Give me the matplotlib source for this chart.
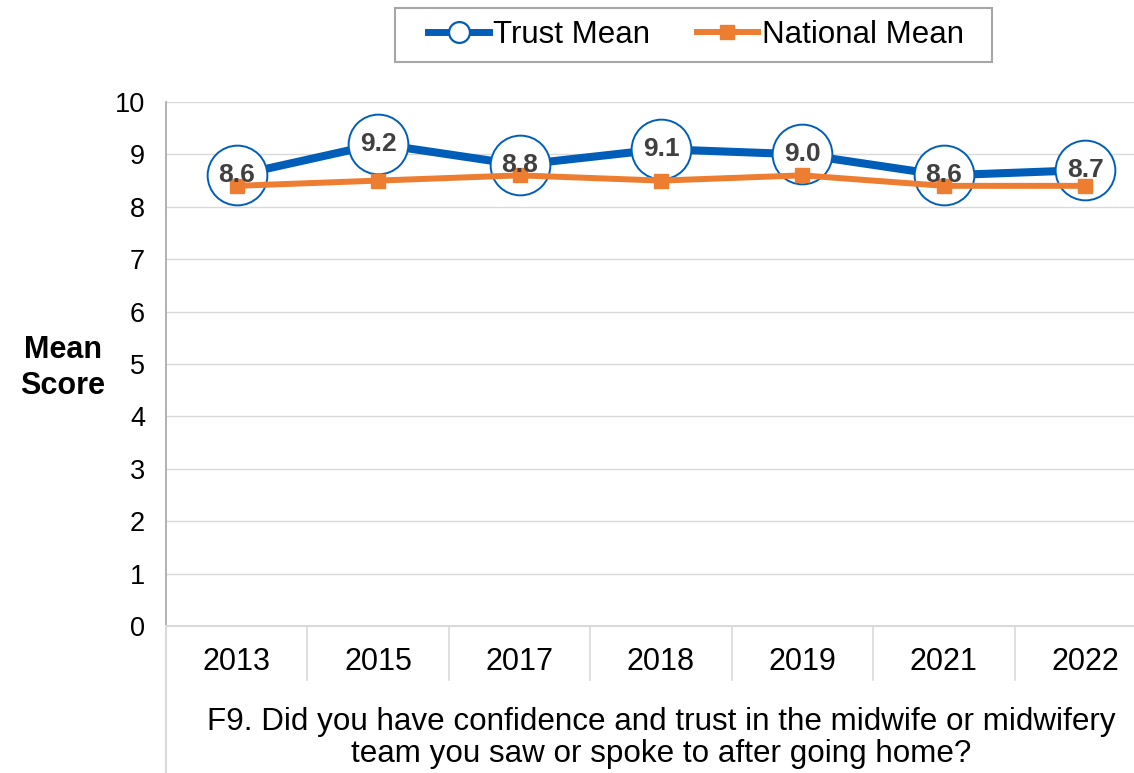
import matplotlib
matplotlib.use("Agg")
import matplotlib.pyplot as plt
from matplotlib.lines import Line2D
from matplotlib.patches import Rectangle

plt.rcParams['font.family'] = ['Liberation Sans', 'DejaVu Sans']

years = ["2013", "2015", "2017", "2018", "2019", "2021", "2022"]
trust_mean = [8.6, 9.2, 8.8, 9.1, 9.0, 8.6, 8.7]
national_mean = [8.4, 8.5, 8.6, 8.5, 8.6, 8.4, 8.4]
y_ticks = [0, 1, 2, 3, 4, 5, 6, 7, 8, 9, 10]
x_title = ("F9. Did you have confidence and trust in the midwife or midwifery\n"
           "team you saw or spoke to after going home?")

BLUE = "#005EB8"
ORANGE = "#ED7D31"
GRID = "#D9D9D9"
AXIS = "#A6A6A6"

W, H = 1134, 773
fig = plt.figure(figsize=(W/100, H/100), dpi=100)
ax = fig.add_axes([166/W, 1-626/H, 990/W, 524/H])

x = list(range(len(years)))
ax.plot(x, trust_mean, color=BLUE, lw=5.8, marker='o', ms=43,
        mfc='white', mec=BLUE, mew=1.4, zorder=3, solid_capstyle='round')
ax.plot(x, national_mean, color=ORANGE, lw=4.3, marker='s', ms=10,
        mfc=ORANGE, mec=ORANGE, zorder=4)
for xi, v in zip(x, trust_mean):
    ax.text(xi, v, f"{v:.1f}", ha='center', va='center', fontsize=19,
            fontweight='bold', color="#404040", zorder=5)

ax.set_xlim(-0.5, len(years) - 0.5)
ax.set_ylim(0, 10)
ax.set_yticks(y_ticks)
ax.set_yticklabels([str(t) for t in y_ticks], fontsize=19.5)
ax.set_xticks(x)
ax.set_xticklabels(years, fontsize=22)
ax.tick_params(axis='y', length=0, pad=15)
ax.tick_params(axis='x', length=0, pad=15)
ax.grid(axis='y', color=GRID, lw=1)
ax.set_axisbelow(True)
for s in ['top', 'right']:
    ax.spines[s].set_visible(False)
ax.spines['left'].set_color(AXIS)
ax.spines['left'].set_linewidth(1.2)
ax.spines['bottom'].set_color(GRID)
ax.spines['bottom'].set_linewidth(1.5)

# category separators below the axis
trans = ax.get_xaxis_transform()
for b in range(1, len(years) + 1):
    ax.plot([b - 0.5, b - 0.5], [0, -0.103], transform=trans, color=GRID,
            lw=1.2, clip_on=False)
ax.plot([-0.5, -0.5], [0, -0.3], transform=trans, color=GRID, lw=1.5,
        clip_on=False)

fig.text(63/W, 1-368/H, "Mean\nScore", ha='center', va='center',
         fontsize=22, fontweight='bold', linespacing=1.3)
fig.text(661/W, 1-738/H, x_title, ha='center', va='center',
         fontsize=22.6, linespacing=1.12)

# legend frame
fig.patches.append(Rectangle((395/W, 1-62/H), 597/W, 54/H,
                             transform=fig.transFigure, fill=False,
                             edgecolor=AXIS, lw=1.5))
handles = [
    Line2D([], [], color=BLUE, lw=5, marker='o', ms=15, mfc='white',
           mec=BLUE, mew=1.6),
    Line2D([], [], color=ORANGE, lw=4.3, marker='s', ms=10, mfc=ORANGE,
           mec=ORANGE),
]
leg = fig.legend(handles, ["Trust Mean", "National Mean"], loc='center',
                 bbox_to_anchor=(696/W, 1-35/H), ncol=2, fontsize=22.5,
                 frameon=False, handlelength=1.95, handletextpad=0.12,
                 columnspacing=1.5, borderpad=0.3)

fig.savefig("out.png", dpi=100)
